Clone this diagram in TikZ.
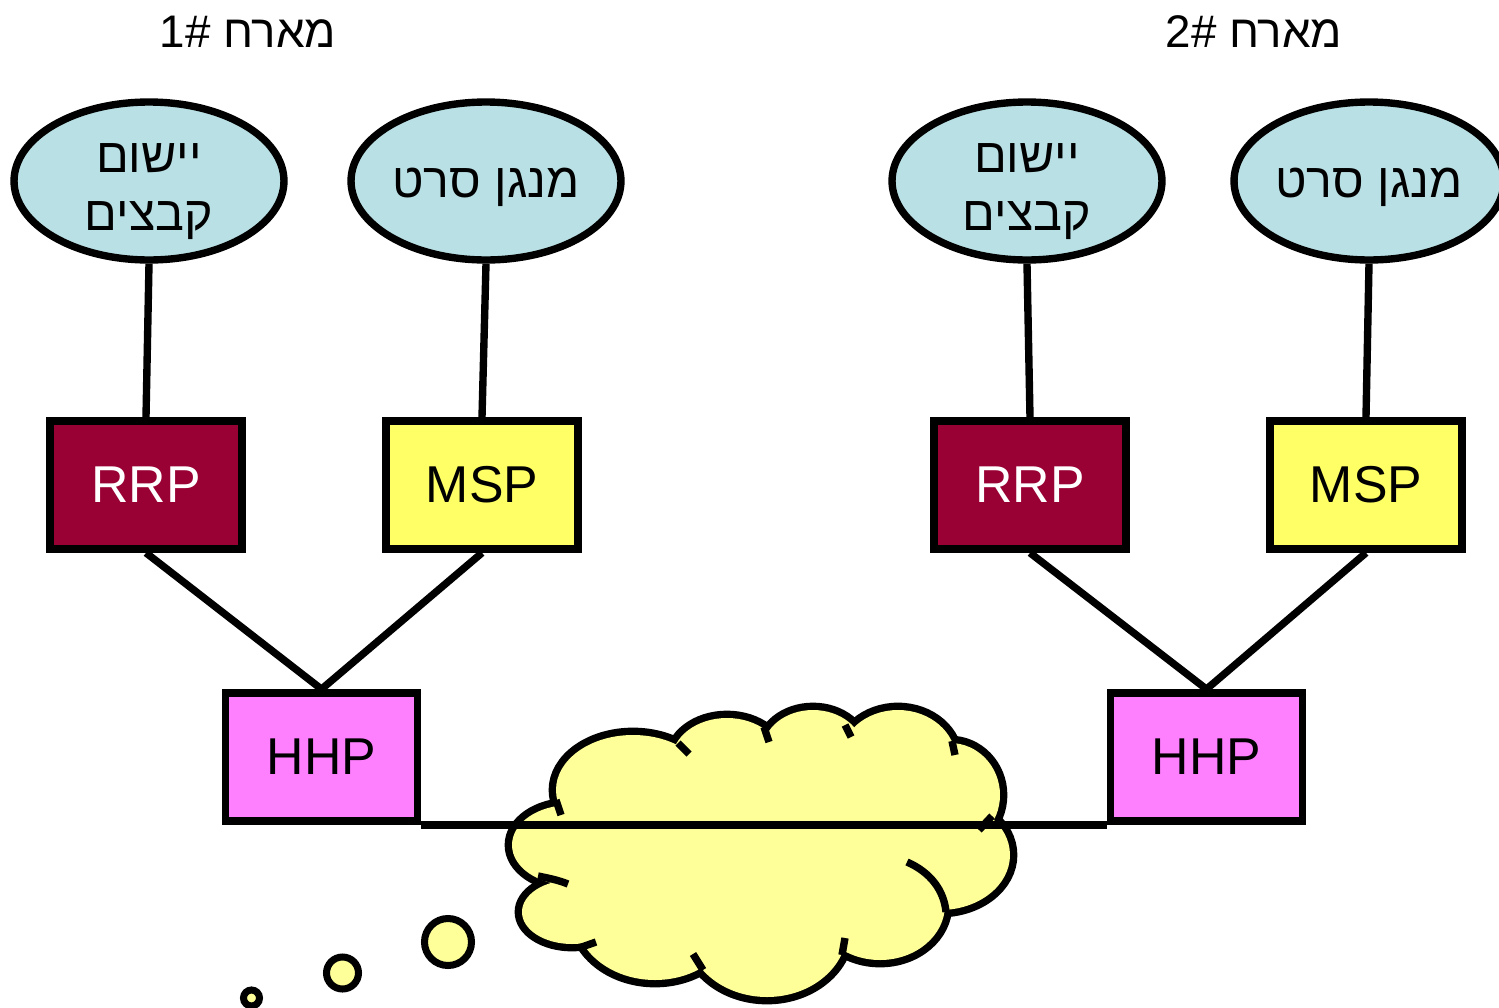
\documentclass[tikz,border=0pt]{standalone}
\usepackage{fontspec}
\setmainfont{Liberation Sans}
\newfontfamily\heb[Script=Hebrew]{Liberation Sans}
\TeXXeTstate=1
\usetikzlibrary{shapes.geometric}
\definecolor{ellfill}{RGB}{185,224,228}
\definecolor{rrpfill}{RGB}{153,0,51}
\definecolor{mspfill}{RGB}{255,255,102}
\definecolor{hhpfill}{RGB}{255,128,255}
\definecolor{cloudfill}{RGB}{255,255,153}
\newcommand{\twolines}[2]{\raisebox{-1.0cm}[0pt][0pt]{\begin{tabular}[b]{@{}c@{}}\beginR #1\endR\\\beginR #2\endR\end{tabular}}}
\newcommand{\oneline}[1]{\raisebox{-0.32cm}[0pt][0pt]{\beginR #1\endR}}
\begin{document}
\begin{tikzpicture}[x=0.02cm,y=-0.02cm,
  proc/.style={draw, line width=4.4pt, minimum width=3.84cm, minimum height=2.56cm, inner sep=0pt, font=\fontsize{29.5}{35}\selectfont},
  rrp/.style={proc, fill=rrpfill, text=white},
  msp/.style={proc, fill=mspfill},
  hhp/.style={proc, fill=hhpfill},
  app/.style={ellipse, draw, line width=4.2pt, fill=ellfill, minimum width=5.40cm, minimum height=3.16cm, inner sep=0pt, font={\heb\fontsize{27.5}{33.5}\selectfont}},
  link/.style={line width=4.2pt},
  title/.style={anchor=base, font=\fontsize{26}{30}\selectfont},
  cloudline/.style={line width=4.2pt, line cap=butt},
  bubble/.style={draw, line width=4pt, fill=cloudfill}
]
\useasboundingbox (0,0) rectangle (1499,1008);

% titles
\node[title] (t1) at (248,47) {1\# {\heb\beginR מארח\endR}};
\node[title] (t2) at (1254,47) {2\# {\heb\beginR מארח\endR}};

% ellipses
\node[app] (e1) at (149,181) {\twolines{יישום}{קבצים}};
\node[app] (e2) at (486,181) {\oneline{מנגן סרט}};
\node[app] (e3) at (1027,181) {\twolines{יישום}{קבצים}};
\node[app] (e4) at (1369,181) {\oneline{מנגן סרט}};

% boxes
\node[rrp] (r1) at (146,485) {RRP};
\node[msp] (m1) at (482,485) {MSP};
\node[rrp] (r2) at (1030,485) {RRP};
\node[msp] (m2) at (1366,485) {MSP};
\node[hhp] (h1) at (321.5,757) {HHP};
\node[hhp] (h2) at (1206.5,757) {HHP};

% connectors
\draw[link] (e1.south) -- (r1.north);
\draw[link] (e2.south) -- (m1.north);
\draw[link] (e3.south) -- (r2.north);
\draw[link] (e4.south) -- (m2.north);
\draw[link] (r1.south) -- (h1.north);
\draw[link] (m1.south) -- (h1.north);
\draw[link] (r2.south) -- (h2.north);
\draw[link] (m2.south) -- (h2.north);

% cloud
\def\bumplist{633/790/77/55, 727/760/55/42, 813/750/50/40, 898/760/58/50, 950/795/50/52, 940/855/70/55, 880/905/65/55, 767/930/80/67, 655/915/80/65, 572/912/50/32, 570/845/58/40}
\foreach \cx/\cy/\rx/\ry in \bumplist
  \draw[line width=8.4pt] (\cx,\cy) ellipse [x radius=\rx, y radius=\ry];
\foreach \cx/\cy/\rx/\ry in \bumplist
  \fill[cloudfill] (\cx,\cy) ellipse [x radius=\rx, y radius=\ry];
\fill[cloudfill] (765,845) ellipse [x radius=195, y radius=85];
% inner arcs and ticks
\draw[cloudline] (907,862) .. controls (930,872) and (944,890) .. (946,912);
\draw[cloudline] (538,876) .. controls (548,878) and (558,880) .. (568,884);
\draw[cloudline] (556,800) -- (561,815);
\draw[cloudline] (678,743) -- (689,754);
\draw[cloudline] (764,727) -- (769,742);
\draw[cloudline] (845,725) -- (851,737);
\draw[cloudline] (952,741) -- (955,755);
\draw[cloudline] (979,830) -- (992,816);
\draw[cloudline] (842,955) -- (845,938);
\draw[cloudline] (693,954) -- (703,970);
\draw[cloudline] (579,948) -- (596,942);

% network line over the cloud
\draw[link] (h1.south east) -- (h2.south west);

% thought bubbles
\draw[bubble] (448,942) circle [radius=23.5];
\draw[bubble] (342.5,973) circle [radius=16];
\draw[bubble] (251.5,998) circle [radius=8];
\end{tikzpicture}
\end{document}
